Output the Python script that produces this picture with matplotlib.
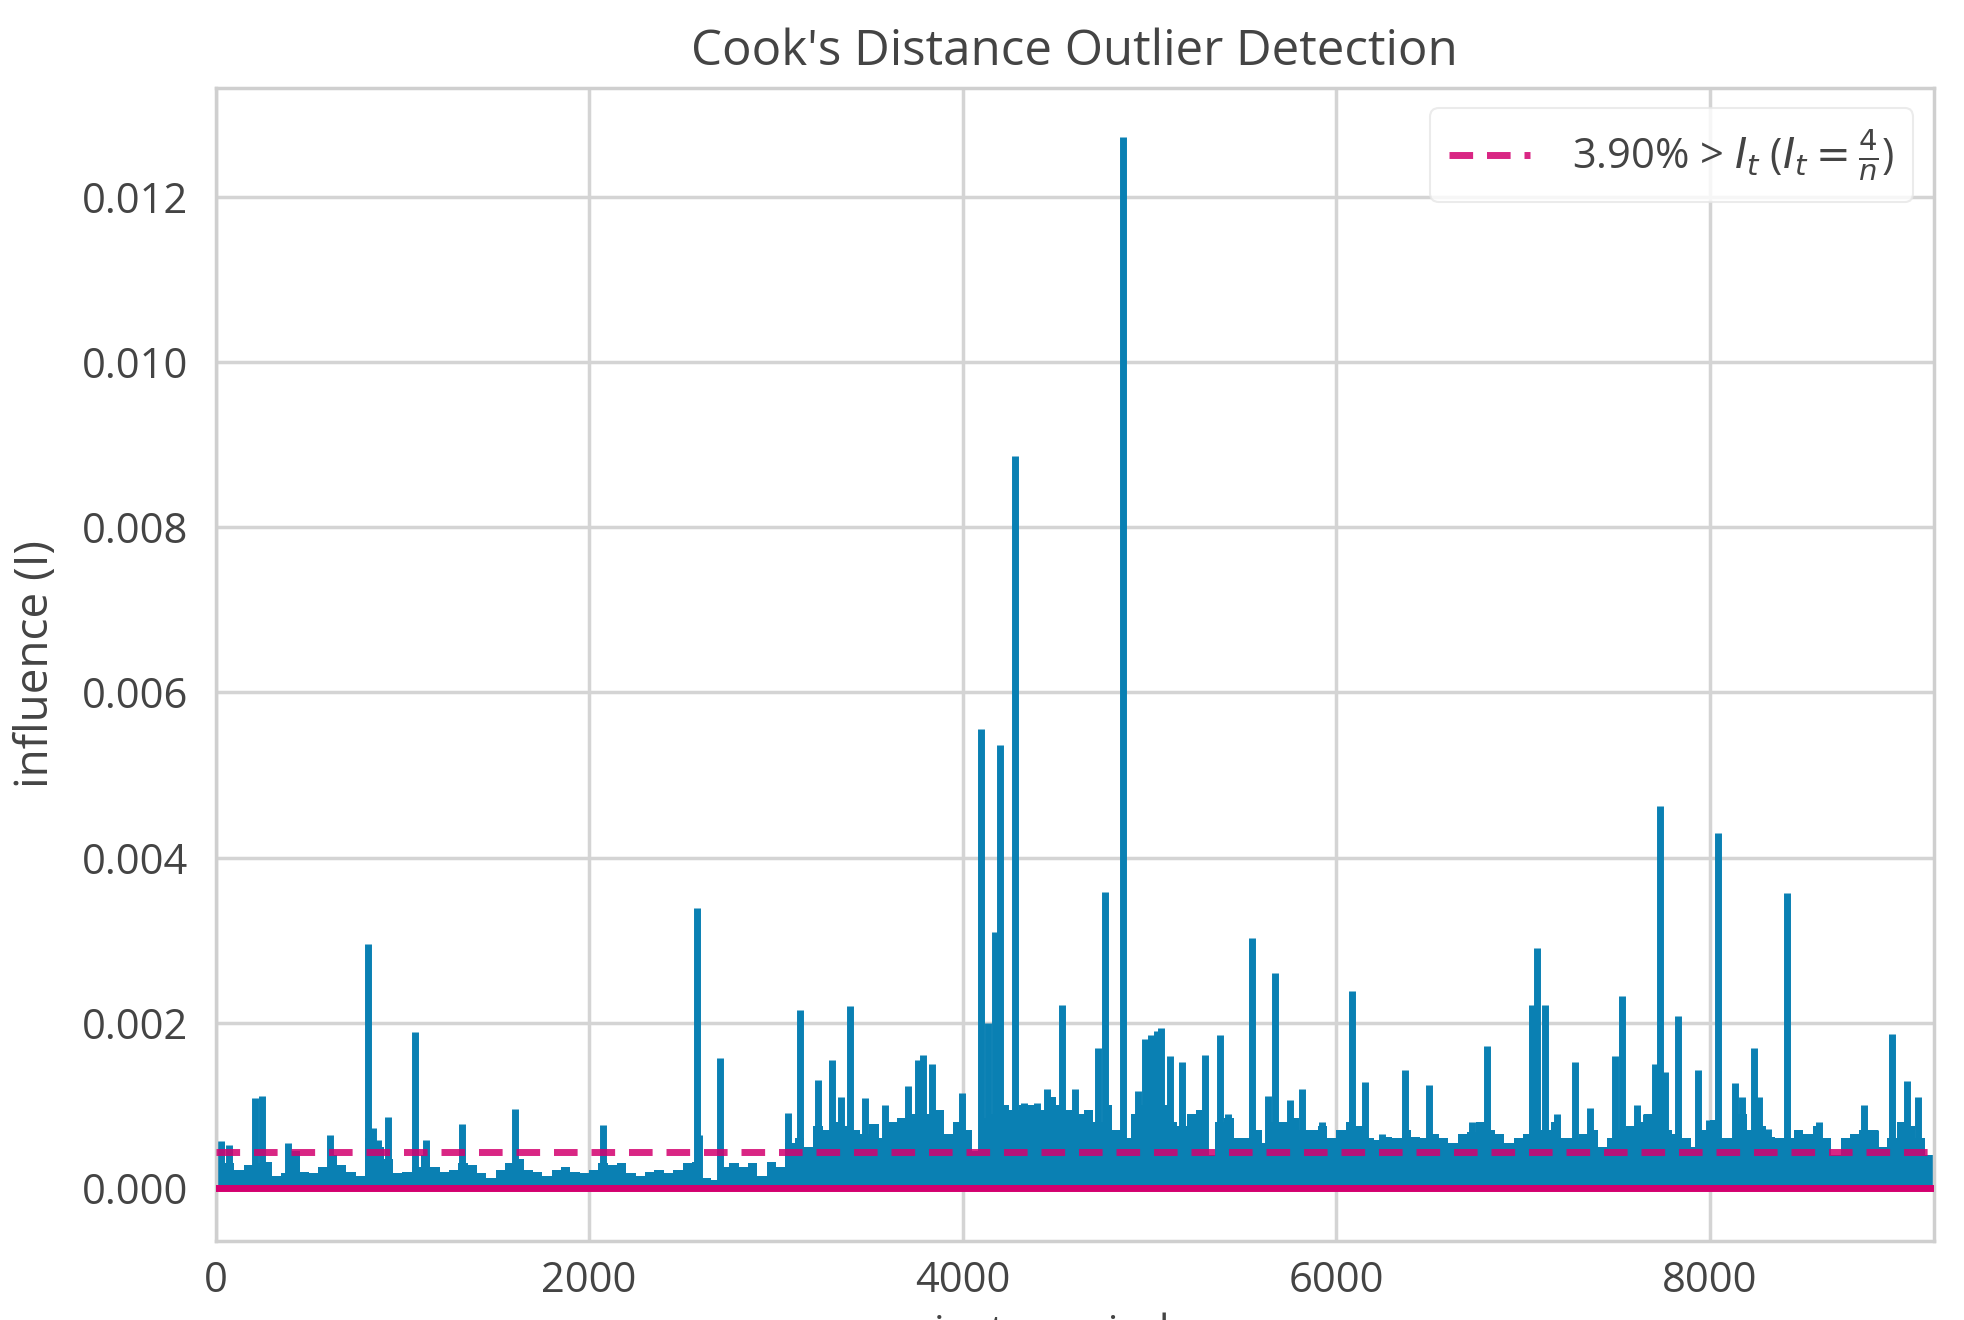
import numpy as np
import matplotlib
matplotlib.use("Agg")
import matplotlib.pyplot as plt

# Cook's distance (n instances, threshold 4/n)
n_instances = 9200
pct_above = 3.90
threshold = 4.0 / n_instances

# local level of the dense stems, one value per 50 instances
bin_width = 50
band_vals = [
    # 0 - 1000
    0.00055, 0.0003, 0.00022, 0.00028, 0.0003, 0.00032, 0.00015, 0.00018, 0.00045, 0.0002,
    0.00018, 0.00025, 0.0004, 0.00028, 0.0002, 0.00015, 0.0006, 0.0005, 0.00035, 0.00018,
    # 1000 - 2000
    0.0002, 0.00025, 0.0004, 0.00025, 0.0002, 0.00022, 0.0003, 0.00028, 0.00018, 0.00012,
    0.00022, 0.0003, 0.00035, 0.00022, 0.0002, 0.00015, 0.00022, 0.00025, 0.0002, 0.00018,
    # 2000 - 3000
    0.00022, 0.0003, 0.00028, 0.0003, 0.00018, 0.00015, 0.0002, 0.00022, 0.00018, 0.00022,
    0.0003, 0.00032, 0.00012, 0.0001, 0.00025, 0.0003, 0.00025, 0.0003, 0.00015, 0.00032,
    # 3000 - 4000
    0.00025, 0.00055, 0.0006, 0.0005, 0.00075, 0.0007, 0.0008, 0.00075, 0.0007, 0.00065,
    0.00078, 0.0006, 0.0008, 0.00085, 0.0009, 0.0008, 0.0009, 0.00095, 0.00065, 0.0008,
    # 4000 - 5000
    0.0007, 0.00045, 0.00085, 0.0009, 0.001, 0.00095, 0.001, 0.001, 0.00095, 0.0011,
    0.001, 0.00095, 0.0009, 0.00095, 0.0008, 0.001, 0.0007, 0.0006, 0.0009, 0.001,
    # 5000 - 6000
    0.00095, 0.001, 0.0008, 0.00075, 0.0009, 0.00095, 0.0004, 0.0008, 0.00085, 0.0006,
    0.0006, 0.0007, 0.00055, 0.0008, 0.0008, 0.00085, 0.0007, 0.0007, 0.00075, 0.0006,
    # 6000 - 7000
    0.0007, 0.0008, 0.00075, 0.0006, 0.00058, 0.00062, 0.0006, 0.0007, 0.00062, 0.0006,
    0.00065, 0.0006, 0.00055, 0.00065, 0.00068, 0.0008, 0.0007, 0.00065, 0.00055, 0.0006,
    # 7000 - 8000
    0.00065, 0.0007, 0.0007, 0.0008, 0.0006, 0.0006, 0.00065, 0.0007, 0.0005, 0.0006,
    0.0007, 0.00075, 0.0008, 0.0009, 0.0008, 0.0007, 0.00065, 0.0006, 0.0005, 0.0007,
    # 8000 - 9200
    0.00082, 0.0006, 0.0006, 0.0009, 0.0007, 0.00075, 0.00062, 0.0006, 0.0006, 0.0007,
    0.00065, 0.00075, 0.0006, 0.0004, 0.0006, 0.00065, 0.0007, 0.0007, 0.0005, 0.0006,
    0.0008, 0.00075, 0.0006, 0.0004,
]

# single stems sticking out of the band
spike_idx = [27, 72, 211, 247, 390, 613, 818, 845, 870, 925, 1068, 1125, 1318, 1603,
             2076, 2576, 2590, 2701, 3067, 3129, 3227, 3299, 3350, 3397, 3477, 3584,
             3709, 3762, 3790, 3837, 3880, 3995, 4100, 4137, 4174, 4201, 4282, 4330,
             4400, 4450, 4530, 4602, 4727, 4763, 4860, 4941, 4977, 5010, 5040, 5062,
             5111, 5173, 5298, 5378, 5423, 5548, 5637, 5673, 5753, 5816, 5923, 6084,
             6155, 6244, 6369, 6494, 6725, 6806, 7047, 7074, 7118, 7180, 7279, 7359,
             7493, 7529, 7609, 7660, 7707, 7734, 7761, 7832, 7939, 7993, 8046, 8136,
             8171, 8234, 8261, 8314, 8412, 8475, 8582, 8823, 8885, 8975, 9055, 9117]
spike_vals = [0.00057, 0.00052, 0.00109, 0.00111, 0.00055, 0.00064, 0.00296, 0.00073,
              0.00058, 0.00086, 0.00189, 0.00058, 0.00078, 0.00096, 0.00076, 0.00339,
              0.00064, 0.00157, 0.00091, 0.00216, 0.00131, 0.00155, 0.0011, 0.0022,
              0.00109, 0.00101, 0.00123, 0.00155, 0.00161, 0.0015, 0.00093, 0.00115,
              0.00556, 0.002, 0.0031, 0.00536, 0.00886, 0.00103, 0.00103, 0.0012,
              0.00222, 0.0012, 0.0017, 0.00358, 0.01272, 0.00117, 0.0018, 0.00185,
              0.0019, 0.00194, 0.0016, 0.00152, 0.00161, 0.00185, 0.0009, 0.00303,
              0.00111, 0.0026, 0.00107, 0.0012, 0.0008, 0.00238, 0.00128, 0.00065,
              0.00143, 0.00125, 0.0008, 0.00172, 0.00222, 0.0029, 0.00222, 0.0009,
              0.00153, 0.00097, 0.0016, 0.00232, 0.001, 0.0009, 0.0015, 0.00463,
              0.0014, 0.00208, 0.00143, 0.00082, 0.0043, 0.00127, 0.0011, 0.0017,
              0.0011, 0.00072, 0.00357, 0.0007, 0.0008, 0.001, 0.0007, 0.00186,
              0.0013, 0.0011]

stem_color = "#0a80b3"
line_color = "#d3006f"
text_color = "#444444"

plt.rcParams["font.family"] = ["Open Sans", "DejaVu Sans"]
plt.rcParams["mathtext.fontset"] = "dejavusans"

fig = plt.figure(figsize=(19.65, 13.2), dpi=100)
ax = fig.add_axes([0.1097, 0.0601, 0.8745, 0.8735])

band_x = np.arange(len(band_vals)) * bin_width
ax.bar(band_x, band_vals, width=bin_width, align="edge", color=stem_color,
       linewidth=0, zorder=2)

markers, stems, base = ax.stem(spike_idx, spike_vals, linefmt="-", markerfmt=" ",
                               basefmt="-")
stems.set_color(stem_color)
stems.set_linewidth(5)
stems.set_zorder(2)
base.set_visible(False)
ax.axhline(0, color=line_color, lw=5, zorder=3)

label = "{:0.2f}% > $I_t$ ($I_t = \\frac{{4}}{{n}}$)".format(pct_above)
ax.axhline(threshold, ls=(0, (3.4, 2.0)), c=line_color, lw=5, alpha=0.85,
           label=label, zorder=4)

ax.set_xlim(0, n_instances)
ax.set_ylim(-0.000637, 0.01332)
ax.set_xticks([0, 2000, 4000, 6000, 8000])
ax.set_yticks(np.arange(0, 0.0121, 0.002))
ax.yaxis.set_major_formatter(matplotlib.ticker.FormatStrFormatter("%.3f"))

ax.grid(True, color="#d4d4d4", lw=2.5, zorder=0)
ax.set_axisbelow(True)
for s in ax.spines.values():
    s.set_color("#cfcfcf")
    s.set_linewidth(2.5)
ax.tick_params(length=0, labelsize=30, colors=text_color)
ax.tick_params(axis="x", pad=14)
ax.tick_params(axis="y", pad=20)

ax.set_title("Cook's Distance Outlier Detection", fontsize=35.5, color=text_color, pad=16)
ax.set_ylabel("influence (I)", fontsize=33, color=text_color, labelpad=16)
# the x label sits mostly below the lower edge, as in the source image
ax.set_xlabel("instance index", fontsize=30, color=text_color, labelpad=8)

leg = ax.legend(loc="upper right", fontsize=30, frameon=True, fancybox=True,
                handlelength=1.95, handletextpad=1.0, borderpad=0.45,
                labelcolor=text_color)
leg.get_frame().set_edgecolor("#e6e6e6")
leg.get_frame().set_linewidth(1.5)

fig.savefig("out.png", dpi=100, facecolor="white")
